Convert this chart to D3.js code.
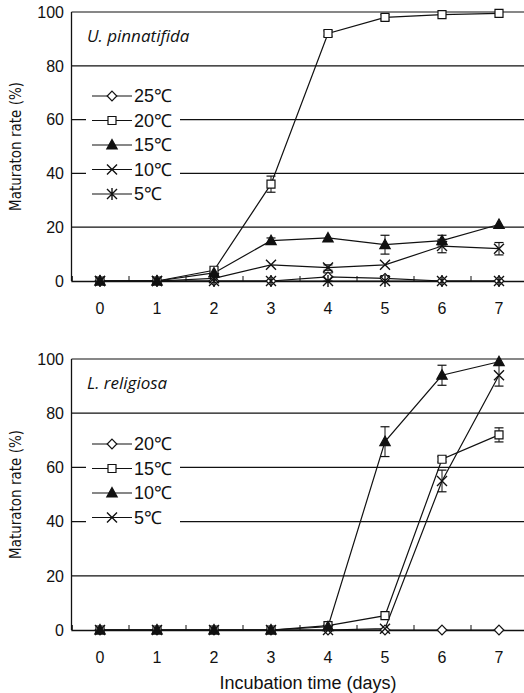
<!DOCTYPE html>
<html>
<head>
<meta charset="utf-8">
<script src="https://cdn.jsdelivr.net/npm/d3@7"></script>
<style>
  body { margin: 0; background: #fff; }
  svg { display: block; }
  text { fill: #111; }
</style>
</head>
<body>
<div id="chart-container"></div>
<script>
// Days of incubation and y ticks
const days = [0, 1, 2, 3, 4, 5, 6, 7]
const yTicks = [0, 20, 40, 60, 80, 100]

// U. pinnatifida, maturation rate (%) per temperature
const upTemps = ['25℃', '20℃', '15℃', '10℃', '5℃']
const upSymbols = ['diamond', 'square', 'triangle', 'cross', 'star']
const up25 = [0, 0, 0, 0, 1.5, 1, 0, 0]
const up20 = [0, 0, 4, 36, 92, 98, 99, 99.5]
const up15 = [0, 0, 3, 15, 16, 13.5, 15, 21]
const up10 = [0, 0, 1, 6, 5, 6, 13, 12]
const up5 = [0, 0, 0, 0, 0, 0, 0, 0]
const up25Err = [0, 0, 0, 0, 1.5, 1, 0, 0]
const up20Err = [0, 0, 0, 3, 1, 1, 0, 0]
const up15Err = [0, 0, 0, 1, 0, 3.5, 2, 0]
const up10Err = [0, 0, 0, 0, 1, 0, 2.5, 2.3]
const up5Err = [0, 0, 0, 0, 0, 0, 0, 0]

// L. religiosa, maturation rate (%) per temperature
const lrTemps = ['20℃', '15℃', '10℃', '5℃']
const lrSymbols = ['diamond', 'square', 'triangle', 'cross']
const lr20 = [0, 0, 0, 0, 0, 0, 0, 0]
const lr15 = [0, 0, 0, 0, 1.6, 5.3, 63, 72]
const lr10 = [0, 0, 0, 0, 1.2, 69.5, 94, 99]
const lr5 = [0, 0, 0, 0, 0, 0.5, 55, 94]
const lr20Err = [0, 0, 0, 0, 0, 0, 0, 0]
const lr15Err = [0, 0, 0, 0, 0, 0, 1, 2.6]
const lr10Err = [0, 0, 0, 0, 0, 5.5, 3.7, 0]
const lr5Err = [0, 0, 0, 0, 0, 0, 4, 4]

const W = 524
const H = 693
const tickFont = '"Liberation Sans", Arial, sans-serif'

const svg = d3
  .select('#chart-container')
  .append('svg')
  .attr('width', W)
  .attr('height', H)

const x = d3.scaleLinear().domain([-0.5, 7.5]).range([71.5, 527.5])

// marker path generators, centered at 0,0
function symbolPath(type) {
  if (type === 'diamond') return 'M0,-4.8L4.8,0L0,4.8L-4.8,0Z'
  if (type === 'square') return 'M-4,-4H4V4H-4Z'
  if (type === 'triangle') return 'M0,-5.5L5.2,4L-5.2,4Z'
  if (type === 'cross') return 'M-5,-5L5,5M-5,5L5,-5'
  return 'M-5,-5L5,5M-5,5L5,-5M0,-6V6'
}

function drawMarker(g, type, cx, cy) {
  const p = g
    .append('path')
    .attr('transform', `translate(${cx},${cy})`)
    .attr('d', symbolPath(type))
    .attr('stroke', '#111')
    .attr('stroke-width', type === 'cross' || type === 'star' ? 1.4 : 1.2)
  if (type === 'triangle') p.attr('fill', '#111')
  else if (type === 'diamond' || type === 'square') p.attr('fill', '#fff')
  else p.attr('fill', 'none')
}

function drawPanel(opts) {
  const y = d3.scaleLinear().domain([0, 100]).range([opts.y0, opts.y100])
  const g = svg.append('g')

  // horizontal gridlines
  g.selectAll('.grid')
    .data(yTicks.filter((d) => d > 0))
    .enter()
    .append('line')
    .attr('x1', x.range()[0])
    .attr('x2', W)
    .attr('y1', (d) => y(d))
    .attr('y2', (d) => y(d))
    .attr('stroke', '#111')
    .attr('stroke-width', 1.2)

  // y axis
  g.append('line')
    .attr('x1', x.range()[0])
    .attr('x2', x.range()[0])
    .attr('y1', y(100))
    .attr('y2', y(0))
    .attr('stroke', '#111')
    .attr('stroke-width', 1.3)

  g.selectAll('.ytick')
    .data(yTicks)
    .enter()
    .append('text')
    .attr('x', 64)
    .attr('y', (d) => y(d))
    .attr('dy', '0.36em')
    .attr('text-anchor', 'end')
    .style('font-family', tickFont)
    .style('font-size', '16px')
    .text((d) => d)

  // x axis, ticks between the days
  const xAxis = g.append('g').attr('transform', `translate(0,${y(0)})`)
  xAxis
    .call(
      d3
        .axisBottom(x)
        .tickValues(d3.range(-0.5, 8, 1))
        .tickSize(-5)
        .tickFormat('')
    )
  xAxis.select('.domain').attr('stroke', '#111').attr('stroke-width', 1.3)
  xAxis.selectAll('.tick line').attr('stroke', '#111')

  g.selectAll('.xlabel')
    .data(days)
    .enter()
    .append('text')
    .attr('x', (d) => x(d))
    .attr('y', y(0) + 27)
    .attr('dy', '0.36em')
    .attr('text-anchor', 'middle')
    .style('font-family', tickFont)
    .style('font-size', '16px')
    .text((d) => d)

  // y title
  g.append('text')
    .attr('transform', `translate(21,${(y(0) + y(100)) / 2}) rotate(-90)`)
    .attr('text-anchor', 'middle')
    .style('font-family', '"Liberation Sans Narrow", "DejaVu Sans Condensed", sans-serif')
    .style('font-size', '15px')
    .text('Maturaton rate (%)')

  // species name
  g.append('text')
    .attr('x', 87)
    .attr('y', y(100) + 30)
    .style('font-family', '"Open Sans", sans-serif')
    .style('font-style', 'italic')
    .style('font-size', '17px')
    .text(opts.title)

  const line = d3
    .line()
    .x((d, i) => x(days[i]))
    .y((d) => y(d))

  // series lines
  opts.series.forEach((s) => {
    g.append('path')
      .datum(s)
      .attr('fill', 'none')
      .attr('stroke', '#111')
      .attr('stroke-width', 1.2)
      .attr('d', line)
  })

  // error bars
  opts.series.forEach((s, k) => {
    const err = opts.errors[k]
    s.forEach((v, i) => {
      if (!err[i]) return
      const cx = x(days[i])
      const lo = y(Math.max(0, v - err[i]))
      const hi = y(v + err[i])
      g.append('line')
        .attr('x1', cx).attr('x2', cx)
        .attr('y1', lo).attr('y2', hi)
        .attr('stroke', '#111')
      ;[lo, hi].forEach((yy) => {
        g.append('line')
          .attr('x1', cx - 4.5).attr('x2', cx + 4.5)
          .attr('y1', yy).attr('y2', yy)
          .attr('stroke', '#111')
          .attr('stroke-width', 1.2)
      })
    })
  })

  // markers
  opts.series.forEach((s, k) => {
    s.forEach((v, i) => drawMarker(g, opts.symbols[k], x(days[i]), y(v)))
  })

  // legend
  const lg = g.append('g')
  const rowH = 24.5
  lg.append('rect')
    .attr('x', 86)
    .attr('y', opts.legendTop - rowH / 2)
    .attr('width', 94)
    .attr('height', rowH * opts.labels.length)
    .attr('fill', '#fff')
  opts.labels.forEach((lab, k) => {
    const ly = opts.legendTop + k * rowH
    lg.append('line')
      .attr('x1', 92).attr('x2', 132)
      .attr('y1', ly).attr('y2', ly)
      .attr('stroke', '#111')
      .attr('stroke-width', 1.2)
    drawMarker(lg, opts.symbols[k], 112, ly)
    lg.append('text')
      .attr('x', 134)
      .attr('y', ly)
      .attr('dy', '0.36em')
      .style('font-family', tickFont)
      .style('font-size', '18px')
      .text(lab)
  })
}

drawPanel({
  y0: 281,
  y100: 12,
  title: 'U. pinnatifida',
  series: [up25, up20, up15, up10, up5],
  errors: [up25Err, up20Err, up15Err, up10Err, up5Err],
  symbols: upSymbols,
  labels: upTemps,
  legendTop: 96
})

drawPanel({
  y0: 630,
  y100: 359,
  title: 'L. religiosa',
  series: [lr20, lr15, lr10, lr5],
  errors: [lr20Err, lr15Err, lr10Err, lr5Err],
  symbols: lrSymbols,
  labels: lrTemps,
  legendTop: 444
})

// x axis title
svg.append('text')
  .attr('x', 308)
  .attr('y', 689)
  .attr('text-anchor', 'middle')
  .style('font-family', tickFont)
  .style('font-size', '18px')
  .text('Incubation time (days)')
</script>
</body>
</html>
